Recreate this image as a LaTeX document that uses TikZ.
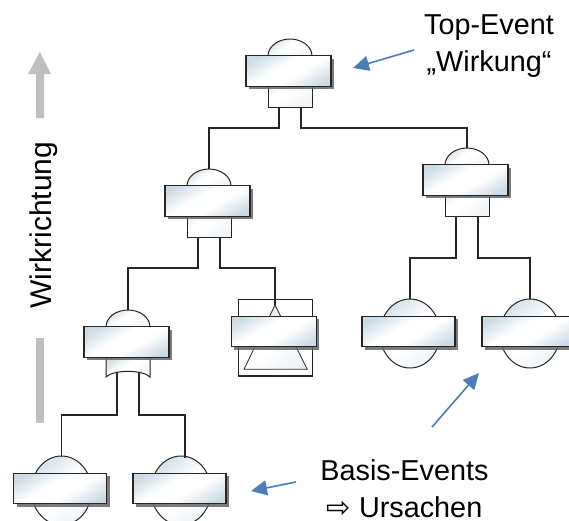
\documentclass[tikz,border=0pt]{standalone}
\usepackage{fontspec}
\setmainfont{Liberation Sans}
\newfontfamily\symfont{DejaVu Sans}
\usetikzlibrary{arrows.meta,shadows,calc,shapes.geometric}
\definecolor{inkdark}{HTML}{262626}
\definecolor{steel}{HTML}{CADBE6}
\definecolor{wayblue}{HTML}{4A7EBB}
\definecolor{waygray}{HTML}{BFBFBF}
\pgfdeclareverticalshading{metalsh}{100bp}{color(0bp)=(steel); color(22bp)=(steel); color(43bp)=(white); color(57bp)=(white); color(78bp)=(steel); color(100bp)=(steel)}
\pgfdeclareverticalshading{softsh}{100bp}{color(0bp)=(steel!30!white); color(25bp)=(steel!30!white); color(45bp)=(white); color(55bp)=(white); color(75bp)=(steel!80!white); color(100bp)=(steel!80!white)}
\tikzset{
  metal/.style={shading=metalsh,shading angle=30},
  soft/.style={shading=softsh,shading angle=35},
  evbox/.style={metal,draw=inkdark,line width=1.4pt,inner sep=0pt,minimum height=30.5pt,
    drop shadow={shadow xshift=3pt,shadow yshift=-3pt,fill=black!60,opacity=0.85}},
  gatebox/.style={evbox,minimum width=85pt},
  basebox/.style={evbox,minimum width=93pt},
  part/.style={soft,draw=inkdark,line width=1pt},
  conn/.style={draw=inkdark,line width=1.2pt,line join=miter},
  thinpart/.style={soft,draw=inkdark,line width=0.8pt},
  pointer/.style={draw=wayblue,line width=1.6pt,-{Triangle[length=16pt,width=15pt]}},
  label/.style={font=\fontsize{28.8}{37}\selectfont,align=center,inner sep=0pt,text=black},
}
% \andgate{name}{cx}{box top}
\newcommand{\andgate}[3]{
  \path[part] (#2-22,#3) arc[start angle=180,end angle=360,x radius=22,y radius=17] -- cycle;
  \path[part] (#2-22,#3+15) rectangle (#2+22,#3+51);
  \coordinate (#1t) at (#2,#3-17);
  \coordinate (#1l) at (#2-11,#3+51);
  \coordinate (#1r) at (#2+11,#3+51);
  \node[gatebox] (#1) at (#2-1.5,#3+15) {};
}
% \basicevent{name}{circle cx}{box top}
\newcommand{\basicevent}[3]{
  \node[part,ellipse,minimum width=60pt,minimum height=69pt,inner sep=0pt] (#1c) at (#2,#3+17.5) {};
  \node[basebox] (#1) at (#2-1.5,#3+15.5) {};
}
\begin{document}
\begin{tikzpicture}[x=1pt,y=-1pt]
\clip (0,0) rectangle (569,520);
\fill[white] (0,0) rectangle (569,520);

% gates
\andgate{ga}{290}{56}
\andgate{gb}{209}{186}
\andgate{gc}{467}{165}

% gate with curved base
\path[part] (106,357) -- (106,377) .. controls (113,369.5) and (143,369.5) .. (150,377) -- (150,357) -- cycle;
\path[part] (106,327) arc[start angle=180,end angle=360,x radius=22,y radius=17] -- cycle;
\coordinate (gdt) at (128,310);
\coordinate (gdl) at (117,371.5);
\coordinate (gdr) at (139,371.5);
\node[gatebox] (gd) at (126.5,342) {};

% undeveloped event (triangle in frame)
\node[draw=inkdark,line width=1.2pt,fill=white,minimum width=73.5pt,minimum height=76.5pt,inner sep=0pt] (tframe) at (275.5,337.7) {};
\path[thinpart] (275,305) -- (307.3,369.3) -- (244,369.3) -- cycle;
\coordinate (tt) at (275,305);
\node[evbox,minimum width=85pt] (tbox) at (273.7,331.5) {};

% basic events
\basicevent{ea}{410}{316}
\basicevent{eb}{530}{316}
\basicevent{ec}{61.5}{473}
\basicevent{ed}{181}{473}
\coordinate (eat) at (410,299);
\coordinate (ebt) at (530,299);
\coordinate (ect) at (61.5,457);
\coordinate (edt) at (185,457.5);

% connectors
\draw[conn] (gal) -- ++(0,21) -| (gbt);
\draw[conn] (gar) -- ++(0,21) -| (gct);
\draw[conn] (gbl) -- ++(0,31) -| (gdt);
\draw[conn] (gbr) -- ++(0,31) -| (tt);
\draw[conn] (gcl) -- ++(0,42) -| (eat);
\draw[conn] (gcr) -- ++(0,42) -| (ebt);
\draw[conn] (gdl) -- ++(0,43.5) -| (ect);
\draw[conn] (gdr) -- ++(0,43.5) -| (edt);

% Wirkrichtung arrow
\fill[waygray] (36,118) -- (36,74) -- (28,74) -- (39.8,52) -- (51,74) -- (44,74) -- (44,118) -- cycle;
\fill[waygray] (36,338) rectangle (44,423);
\node[label,rotate=90,font=\fontsize{30}{36}\selectfont] (wr) at (43.5,225) {Wirkrichtung};

% labels
\node[label] (top) at (489,46.5) {Top-Event\\„Wirkung“};
\node[label] (bas) at (404.5,488.5) {Basis-Events\\{\symfont\fontsize{29}{36}\selectfont ⇨} Ursachen};

% blue pointers
\coordinate (pa) at (414,50);
\coordinate (pat) at (353,68);
\coordinate (pb) at (432,427);
\coordinate (pbt) at (479,373);
\coordinate (pc) at (296,482);
\coordinate (pct) at (251,491);
\draw[pointer] (pa) -- (pat);
\draw[pointer] (pb) -- (pbt);
\draw[pointer] (pc) -- (pct);
\end{tikzpicture}
\end{document}
